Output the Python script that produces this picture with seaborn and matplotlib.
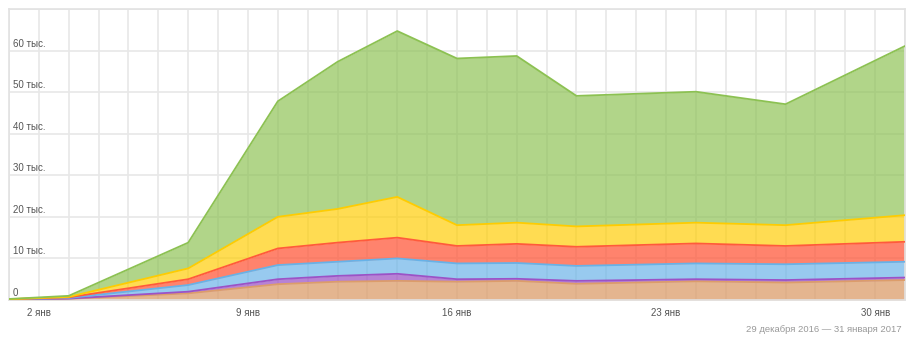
import numpy as np
import pandas as pd
import matplotlib
matplotlib.use("Agg")
import matplotlib.pyplot as plt
import seaborn as sns

# ---- data (values in visits) ----
days = [1, 3, 7, 10, 12, 14, 16, 18, 20, 24, 27, 31]          # January 2017
series_tan    = [100, 300, 1600, 3800, 4400, 4600, 4400, 4600, 3900, 4500, 4200, 4800]
series_purple = [20, 50, 400, 1200, 1400, 1700, 600, 500, 700, 500, 600, 600]
series_blue   = [30, 150, 1600, 3400, 3400, 3700, 3800, 3800, 3600, 3800, 3800, 3800]
series_red    = [30, 150, 1400, 4000, 4600, 5000, 4200, 4600, 4600, 4800, 4400, 4800]
series_yellow = [20, 100, 2600, 7600, 8100, 9800, 5000, 5100, 4900, 5000, 5000, 6400]
series_green  = [50, 250, 6200, 27800, 35400, 39900, 40100, 40100, 31400, 31500, 29100, 40700]

x_tick_days = [2, 9, 16, 23, 30]
x_tick_labels = ["2 янв", "9 янв", "16 янв", "23 янв", "30 янв"]
y_tick_values = [0, 10000, 20000, 30000, 40000, 50000, 60000]
y_tick_labels = ["0", "10 тыс.", "20 тыс.", "30 тыс.", "40 тыс.", "50 тыс.", "60 тыс."]
period_label = "29 декабря 2016 — 31 января 2017"

layers = [
    ("tan", series_tan, "#dc9d6a", 0.75),
    ("purple", series_purple, "#9c52c6", 0.72),
    ("blue", series_blue, "#67b2e8", 0.68),
    ("red", series_red, "#ff5a3c", 0.75),
    ("yellow", series_yellow, "#ffcc00", 0.68),
    ("green", series_green, "#8cc152", 0.68),
]

sns.set_style("white")
plt.rcParams["font.family"] = ["Liberation Sans", "DejaVu Sans"]

fig = plt.figure(figsize=(9.21, 3.42), dpi=100)
ax = fig.add_axes([9 / 921, 1 - 300 / 342, 896 / 921, 291 / 342])

# grid
ax.set_xlim(1, 31)
ax.set_ylim(0, 70000)
ax.set_xticks(range(1, 32), minor=True)
ax.set_xticks(x_tick_days)
ax.set_xticklabels(x_tick_labels)
ax.set_yticks(range(0, 70001, 10000))
ax.set_yticklabels([])
ax.grid(True, which="both", axis="x", color="#e8e8e8", linewidth=1.2)
ax.grid(True, which="major", axis="y", color="#e8e8e8", linewidth=1.2)
ax.set_axisbelow(True)
ax.tick_params(axis="both", which="both", length=0)
ax.tick_params(axis="x", pad=6, labelsize=7, labelcolor="#555555")
ax.tick_params(axis="y", labelleft=False)
for s in ax.spines.values():
    s.set_color("#e2e2e2")
    s.set_linewidth(1.2)

df = pd.DataFrame({"day": days})
base = np.zeros(len(days))
for name, vals, col, a in layers:
    top = base + np.array(vals, dtype=float)
    ax.fill_between(days, base, top, color=col, alpha=a, linewidth=0, zorder=2)
    df[name] = top
    sns.lineplot(data=df, x="day", y=name, ax=ax, color=col, linewidth=1.3,
                 zorder=3, legend=False)
    base = top

ax.set_xlabel("")
ax.set_ylabel("")

for v, lab in zip(y_tick_values, y_tick_labels):
    ax.annotate(lab, xy=(0, v), xycoords=("axes fraction", "data"),
                xytext=(4, 2), textcoords="offset pixels",
                ha="left", va="bottom", fontsize=7, color="#555555", zorder=5)

fig.text(902 / 921, 1 - 330 / 342, period_label, ha="right", va="center",
         fontsize=6.8, color="#999999")

fig.savefig("out.png", dpi=100, facecolor="white")
